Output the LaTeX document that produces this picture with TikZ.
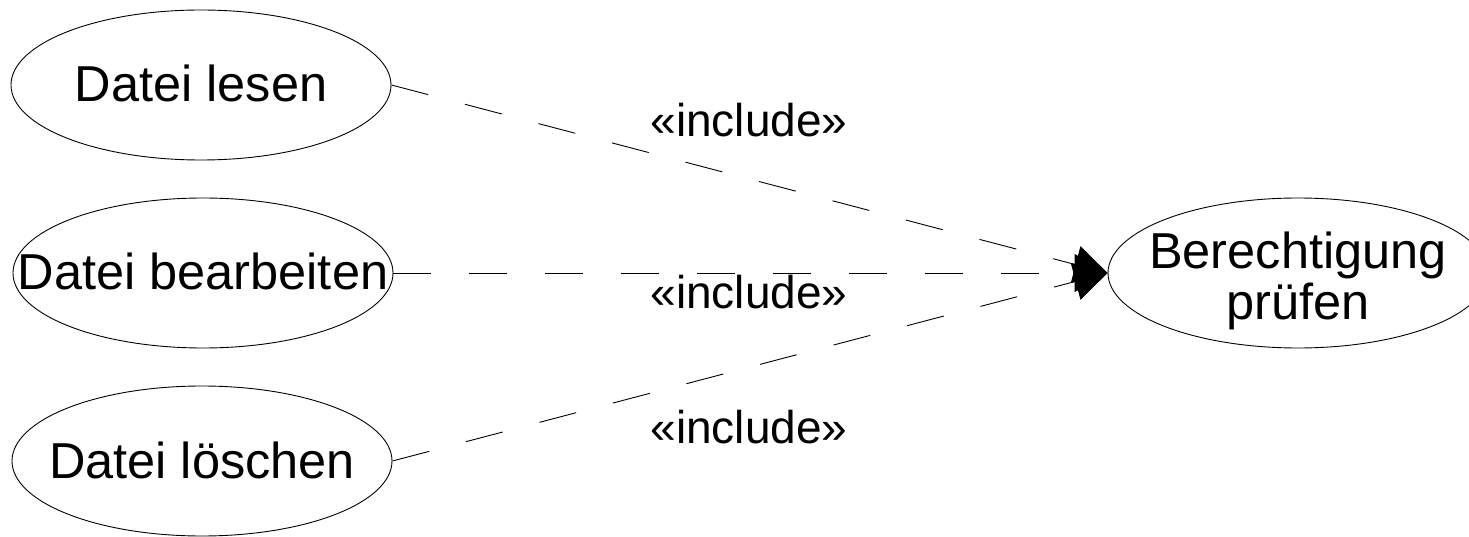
\documentclass[tikz,border=0pt]{standalone}
\usepackage{fontspec}
\setmainfont{Liberation Sans}
\usetikzlibrary{shapes.geometric,arrows.meta}
\newcommand{\ctext}[2][-17pt]{\makebox[0pt][c]{\raisebox{#1}[0pt][0pt]{\begin{tabular}[t]{@{}c@{}}#2\end{tabular}}}}
\begin{document}
\begin{tikzpicture}[x=1pt,y=-1pt,
  usecase/.style={draw,line width=0.9pt,ellipse,minimum width=380pt,minimum height=150pt,inner sep=0pt,font=\fontsize{50.5}{50}\selectfont},
  incl/.style={draw,line width=0.9pt,dash pattern=on 38pt off 38pt,-{Triangle[length=33pt,width=38pt]}},
  lbl/.style={anchor=base,font=\fontsize{46}{46}\selectfont,inner sep=0pt}]
\useasboundingbox (0,0) rectangle (1469,537);
\node[usecase] (lesen) at (201,85) {\ctext{Datei lesen}};
\node[usecase] (bearb) at (203,273) {\ctext{Datei bearbeiten}};
\node[usecase] (loeschen) at (202,461) {\ctext{Datei löschen}};
\node[usecase] (pruefen) at (1298,273) {\ctext[5pt]{Berechtigung\\prüfen}};
\draw[incl] (lesen.east) -- (pruefen.west);
\draw[incl] (bearb.east) -- (pruefen.west);
\draw[incl] (loeschen.east) -- (pruefen.west);
\node[lbl] (l1) at (749,137) {«include»};
\node[lbl] (l2) at (749,308) {«include»};
\node[lbl] (l3) at (749,443) {«include»};
\end{tikzpicture}
\end{document}
